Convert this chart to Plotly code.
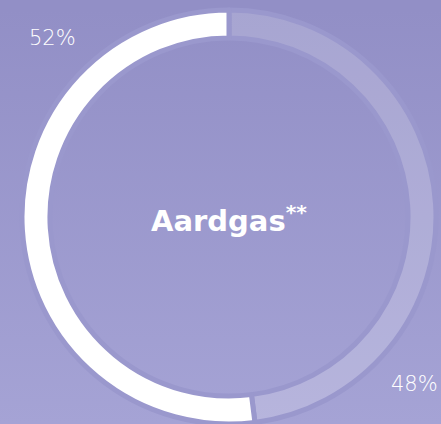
import plotly.graph_objects as go

labels = ["Deel B", "Deel A"]
values = [48, 52]
pct_labels = ["48%", "52%"]
center_title = "Aardgas<sup>**</sup>"

bg_top = "#928fc6"
bg_bottom = "#a5a3d5"
svg = (
    "<svg xmlns='http://www.w3.org/2000/svg' width='441' height='424'>"
    "<defs><linearGradient id='g' x1='0' y1='0' x2='0' y2='1'>"
    f"<stop offset='0' stop-color='{bg_top}'/><stop offset='1' stop-color='{bg_bottom}'/>"
    "</linearGradient></defs><rect width='441' height='424' fill='url(#g)'/></svg>"
)
bg_uri = "data:image/svg+xml;utf8," + svg.replace("#", "%23")

fig = go.Figure(
    go.Pie(
        labels=labels,
        values=values,
        hole=0.865,
        sort=False,
        direction="clockwise",
        rotation=0,
        textinfo="none",
        hoverinfo="none",
        marker=dict(
            colors=["rgba(255,255,255,0.2)", "#ffffff"],
            line=dict(color="#9a98cd", width=5),
        ),
        domain=dict(x=[0.0385, 1], y=[0, 1]),
        showlegend=False,
    )
)

fig.add_layout_image(
    dict(source=bg_uri, xref="paper", yref="paper", x=0, y=1, sizex=1, sizey=1,
         sizing="stretch", layer="below", xanchor="left", yanchor="top")
)

fig.add_annotation(x=229, y=219, xref="x", yref="y", text=center_title, showarrow=False,
                   font=dict(family="DejaVu Sans", size=29, color="white", weight="bold"))
fig.add_annotation(x=52, y=38, xref="x", yref="y", text=pct_labels[1], showarrow=False,
                   font=dict(family="DejaVu Sans", size=21, color="white", weight=300))
fig.add_annotation(x=414, y=384, xref="x", yref="y", text=pct_labels[0], showarrow=False,
                   font=dict(family="DejaVu Sans", size=21, color="white", weight=300))

fig.update_layout(
    width=441,
    height=424,
    margin=dict(l=0, r=0, t=10, b=0),
    paper_bgcolor=bg_top,
    plot_bgcolor="rgba(0,0,0,0)",
    xaxis=dict(range=[0, 441], visible=False, fixedrange=True),
    yaxis=dict(range=[424, 10], visible=False, fixedrange=True),
)
fig.write_html("out.html")
